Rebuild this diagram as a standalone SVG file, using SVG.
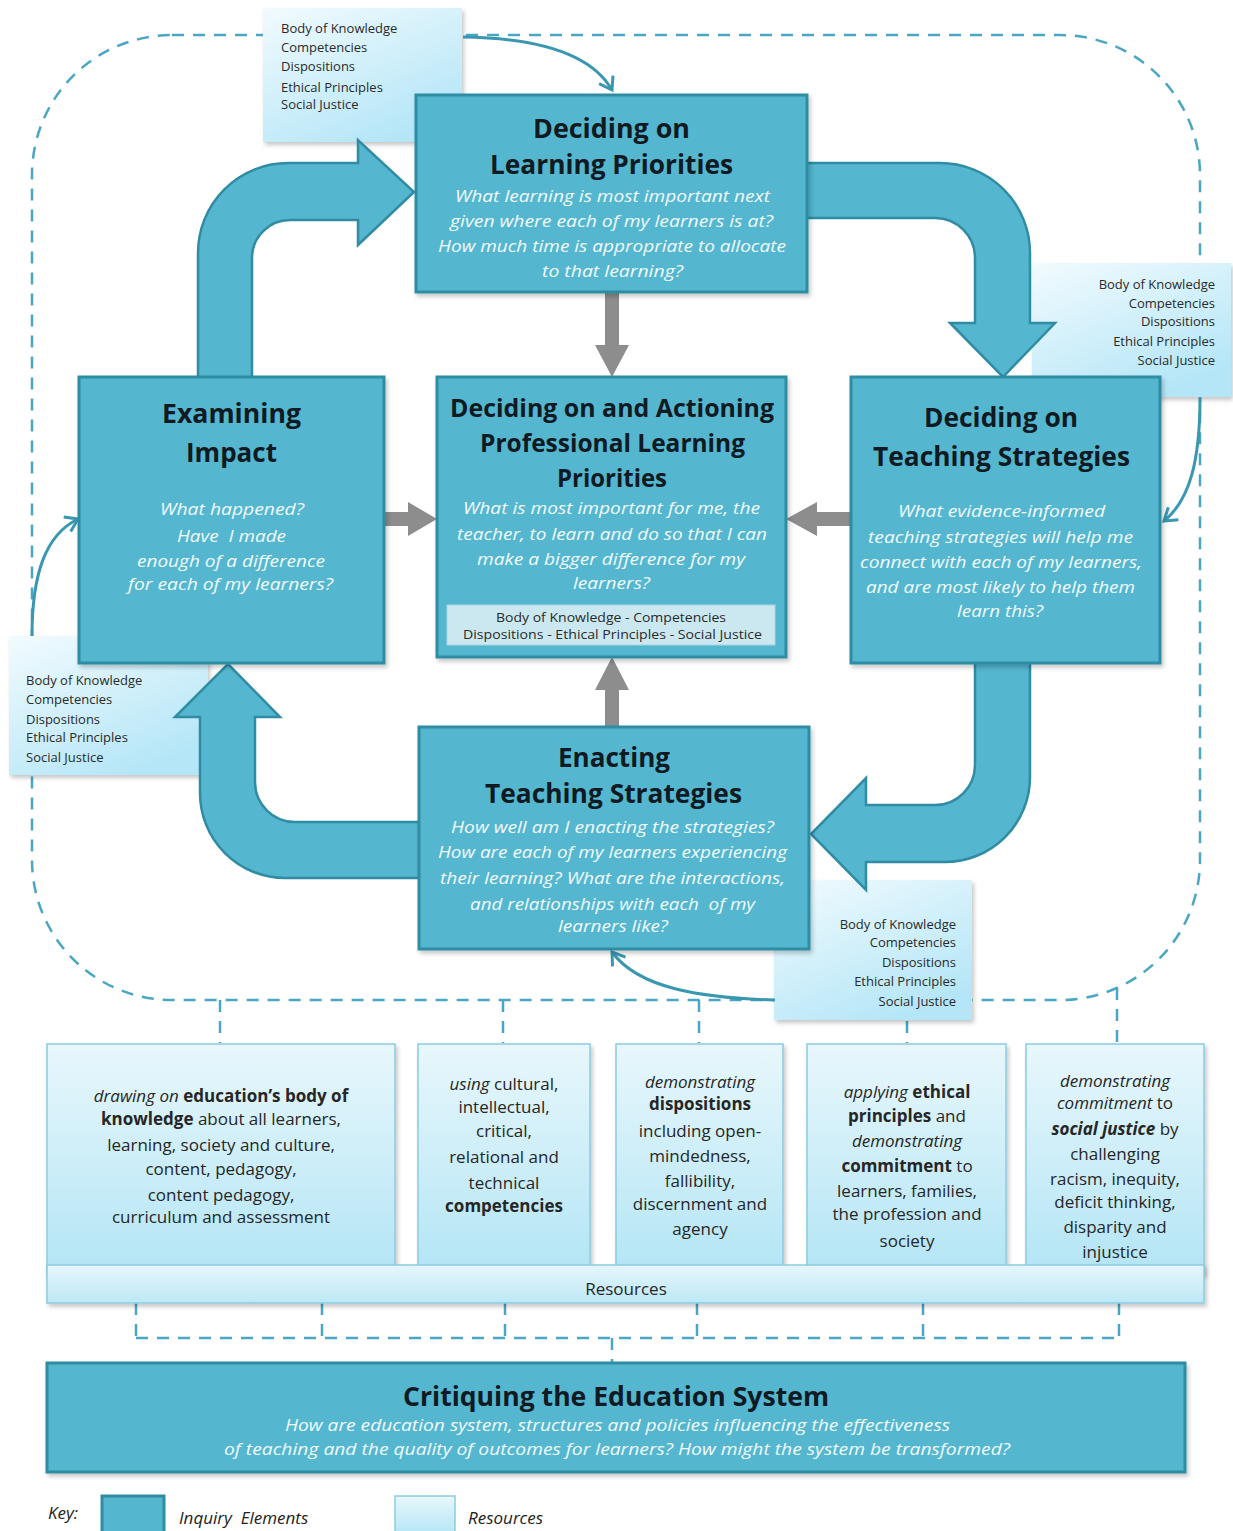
<svg xmlns="http://www.w3.org/2000/svg" width="1233" height="1531" viewBox="0 0 1233 1531">
<defs>
<style>
.box{fill:#55b6cf;stroke:#2f8ca3;stroke-width:3}
.big{fill:#55b6cf;stroke:#2f8ca3;stroke-width:2.5;stroke-linejoin:miter}
.gray{fill:#8d8d8d}
.dash{fill:none;stroke:#4aa6c3;stroke-width:2.5;stroke-dasharray:12 9}
.thin{fill:none;stroke:#3a97b1;stroke-width:3}
.res{fill:url(#gres);stroke:#8ccbe0;stroke-width:1.5}
.sres{fill:url(#gsres)}
.t{font-family:"Open Sans","Liberation Sans",sans-serif;font-weight:700;fill:#0f1a22}
.q{font-family:"Open Sans","Liberation Sans",sans-serif;font-style:italic;fill:#f2fbfd;font-size:16.5px}
.s{font-family:"Open Sans","Liberation Sans",sans-serif;font-size:13px;fill:#2a2a2a}
.r{font-family:"Open Sans","Liberation Sans",sans-serif;font-size:17px;fill:#262626;text-anchor:middle}
.b{font-weight:700}
.i{font-style:italic}
.k{font-family:"Open Sans","Liberation Sans",sans-serif;font-style:italic;font-size:17px;fill:#222}
</style>
<linearGradient id="gres" x1="0" y1="0" x2="0" y2="1">
<stop offset="0" stop-color="#e8f7fc"/>
<stop offset="1" stop-color="#b3e5f5"/>
</linearGradient>
<linearGradient id="gsres" x1="0" y1="0" x2="0.6" y2="1">
<stop offset="0" stop-color="#f2fbfe"/>
<stop offset="1" stop-color="#b5e6f7"/>
</linearGradient>
<linearGradient id="gbar" x1="0" y1="0" x2="0" y2="1">
<stop offset="0" stop-color="#e6f6fc"/>
<stop offset="1" stop-color="#bde8f6"/>
</linearGradient>
<filter id="sh" x="-10%" y="-10%" width="130%" height="130%">
<feDropShadow dx="2" dy="3" stdDeviation="2" flood-color="#000" flood-opacity="0.22"/>
</filter>
<marker id="chev" markerUnits="userSpaceOnUse" markerWidth="20" markerHeight="20" viewBox="0 0 20 20" refX="16" refY="10" orient="auto">
<path d="M4,2 L16,10 L4,18" fill="none" stroke="#3a97b1" stroke-width="3"/>
</marker>
</defs>
<rect width="1233" height="1531" fill="#ffffff"/>

<g id="frame">
<rect class="dash" x="32" y="35" width="1168" height="965" rx="140" ry="140"/>
<path class="dash" d="M220,1000 V1043 M503,1000 V1043 M699,1000 V1043 M907,1000 V1043 M1117,988 V1043"/>
<path class="dash" d="M136,1303 V1338 M322,1303 V1338 M505,1303 V1338 M697,1303 V1338 M923,1303 V1338 M1119,1303 V1338 M136,1338 H1119 M612,1338 V1363"/>
</g>

<g id="res-top">
<rect class="sres" x="263" y="8" width="199" height="134" filter="url(#sh)"/>
<text class="s" x="281" y="33">Body of Knowledge</text>
<text class="s" x="281" y="52">Competencies</text>
<text class="s" x="281" y="71">Dispositions</text>
<text class="s" x="281" y="92">Ethical Principles</text>
<text class="s" x="281" y="109">Social Justice</text>
</g>

<g id="res-right">
<rect class="sres" x="1032" y="263" width="199" height="134" filter="url(#sh)"/>
<g text-anchor="end">
<text class="s" x="1215" y="289">Body of Knowledge</text>
<text class="s" x="1215" y="308">Competencies</text>
<text class="s" x="1215" y="326">Dispositions</text>
<text class="s" x="1215" y="346">Ethical Principles</text>
<text class="s" x="1215" y="365">Social Justice</text>
</g>
</g>

<g id="res-left">
<rect class="sres" x="9" y="636" width="199" height="139" filter="url(#sh)"/>
<text class="s" x="26" y="685">Body of Knowledge</text>
<text class="s" x="26" y="704">Competencies</text>
<text class="s" x="26" y="724">Dispositions</text>
<text class="s" x="26" y="742">Ethical Principles</text>
<text class="s" x="26" y="762">Social Justice</text>
</g>

<g id="res-bottom">
<rect class="sres" x="774" y="880" width="198" height="140" filter="url(#sh)"/>
<g text-anchor="end">
<text class="s" x="956" y="929">Body of Knowledge</text>
<text class="s" x="956" y="947">Competencies</text>
<text class="s" x="956" y="967">Dispositions</text>
<text class="s" x="956" y="986">Ethical Principles</text>
<text class="s" x="956" y="1006">Social Justice</text>
</g>
</g>

<g id="connectors">
<path id="arr-impact-to-learning" class="big" d="M198,380 L198,253 A90,90 0 0 1 288,163 L358,163 L358,140 L414,192 L358,245 L358,220 L290,220 A38,38 0 0 0 252,258 L252,380 Z"/>
<path id="arr-learning-to-teaching" class="big" d="M805,163 L940,163 A90,90 0 0 1 1030,253 L1030,323 L1055,323 L1003,377 L950,323 L975,323 L975,258 A40,40 0 0 0 935,218 L805,218 Z"/>
<path id="arr-teaching-to-enacting" class="big" d="M975,660 L975,765 A40,40 0 0 1 935,805 L866,805 L866,778 L811,834 L866,890 L866,862 L945,862 A85,85 0 0 0 1030,777 L1030,660 Z"/>
<path id="arr-enacting-to-impact" class="big" d="M422,822 L295,822 A40,40 0 0 1 255,782 L255,717 L280,717 L228,664 L175,717 L200,717 L200,793 A85,85 0 0 0 285,878 L422,878 Z"/>
<path class="gray" d="M605,292 L605,345 L595,345 L612,377 L629,345 L619,345 L619,292 Z"/>
<path class="gray" d="M384,512 L408,512 L408,502 L437,519 L408,536 L408,526 L384,526 Z"/>
<path class="gray" d="M851,512 L817,512 L817,502 L786,519 L817,536 L817,526 L851,526 Z"/>
<path class="gray" d="M605,727 L605,690 L595,690 L612,657 L629,690 L619,690 L619,727 Z"/>
<path class="thin" marker-end="url(#chev)" d="M463,37 C540,38 592,55 612,90"/>
<path class="thin" marker-end="url(#chev)" d="M1200,398 C1200,460 1190,500 1164,521"/>
<path class="thin" marker-end="url(#chev)" d="M32,636 C32,575 45,535 78,519"/>
<path class="thin" marker-end="url(#chev)" d="M775,1000 C700,998 638,988 612,952"/>
</g>

<g id="learning-priorities">
<rect class="box" x="416" y="95" width="391" height="197" filter="url(#sh)"/>
<text class="t" font-size="26" x="533" y="138" textLength="157" lengthAdjust="spacingAndGlyphs">Deciding on</text>
<text class="t" font-size="26" x="490" y="174" textLength="243" lengthAdjust="spacingAndGlyphs">Learning Priorities</text>
<text class="q" x="455" y="202" textLength="315" lengthAdjust="spacingAndGlyphs">What learning is most important next</text>
<text class="q" x="450" y="227" textLength="323" lengthAdjust="spacingAndGlyphs">given where each of my learners is at?</text>
<text class="q" x="438" y="252" textLength="348" lengthAdjust="spacingAndGlyphs">How much time is appropriate to allocate</text>
<text class="q" x="542" y="277" textLength="141" lengthAdjust="spacingAndGlyphs">to that learning?</text>
</g>

<g id="professional-learning">
<rect class="box" x="437" y="377" width="349" height="280" filter="url(#sh)"/>
<text class="t" font-size="25" x="450" y="417" textLength="324" lengthAdjust="spacingAndGlyphs">Deciding on and Actioning</text>
<text class="t" font-size="25" x="480" y="452" textLength="265" lengthAdjust="spacingAndGlyphs">Professional Learning</text>
<text class="t" font-size="25" x="557" y="487" textLength="110" lengthAdjust="spacingAndGlyphs">Priorities</text>
<text class="q" x="463" y="514" textLength="297" lengthAdjust="spacingAndGlyphs">What is most important for me, the</text>
<text class="q" x="457" y="540" textLength="310" lengthAdjust="spacingAndGlyphs">teacher, to learn and do so that I can</text>
<text class="q" x="477" y="565" textLength="268" lengthAdjust="spacingAndGlyphs">make a bigger difference for my</text>
<text class="q" x="573" y="589" textLength="77" lengthAdjust="spacingAndGlyphs">learners?</text>
<rect x="447" y="605" width="328" height="40" fill="#cbe8f1" stroke="#a9d6e4" stroke-width="1"/>
<text class="s" x="496" y="622" textLength="230" lengthAdjust="spacingAndGlyphs">Body of Knowledge - Competencies</text>
<text class="s" x="463" y="639" textLength="299" lengthAdjust="spacingAndGlyphs">Dispositions - Ethical Principles - Social Justice</text>
</g>

<g id="examining-impact">
<rect class="box" x="79" y="377" width="305" height="286" filter="url(#sh)"/>
<text class="t" font-size="26" x="162" y="423" textLength="139" lengthAdjust="spacingAndGlyphs">Examining</text>
<text class="t" font-size="26" x="186" y="462" textLength="91" lengthAdjust="spacingAndGlyphs">Impact</text>
<text class="q" x="160" y="515" textLength="144" lengthAdjust="spacingAndGlyphs">What happened?</text>
<text class="q" x="177" y="542" textLength="109" lengthAdjust="spacingAndGlyphs" xml:space="preserve">Have  I made</text>
<text class="q" x="137" y="567" textLength="188" lengthAdjust="spacingAndGlyphs">enough of a difference</text>
<text class="q" x="128" y="590" textLength="205" lengthAdjust="spacingAndGlyphs">for each of my learners?</text>
</g>

<g id="teaching-strategies">
<rect class="box" x="851" y="377" width="309" height="286" filter="url(#sh)"/>
<text class="t" font-size="26" x="924" y="427" textLength="154" lengthAdjust="spacingAndGlyphs">Deciding on</text>
<text class="t" font-size="26" x="873" y="466" textLength="257" lengthAdjust="spacingAndGlyphs">Teaching Strategies</text>
<text class="q" x="898" y="517" textLength="207" lengthAdjust="spacingAndGlyphs">What evidence-informed</text>
<text class="q" x="868" y="543" textLength="265" lengthAdjust="spacingAndGlyphs">teaching strategies will help me</text>
<text class="q" x="860" y="568" textLength="282" lengthAdjust="spacingAndGlyphs">connect with each of my learners,</text>
<text class="q" x="866" y="593" textLength="269" lengthAdjust="spacingAndGlyphs">and are most likely to help them</text>
<text class="q" x="957" y="617" textLength="86" lengthAdjust="spacingAndGlyphs">learn this?</text>
</g>

<g id="enacting">
<rect class="box" x="419" y="727" width="390" height="222" filter="url(#sh)"/>
<text class="t" font-size="26" x="558" y="767" textLength="112" lengthAdjust="spacingAndGlyphs">Enacting</text>
<text class="t" font-size="26" x="485" y="803" textLength="257" lengthAdjust="spacingAndGlyphs">Teaching Strategies</text>
<text class="q" x="451" y="833" textLength="323" lengthAdjust="spacingAndGlyphs">How well am I enacting the strategies?</text>
<text class="q" x="438" y="858" textLength="349" lengthAdjust="spacingAndGlyphs">How are each of my learners experiencing</text>
<text class="q" x="440" y="884" textLength="345" lengthAdjust="spacingAndGlyphs">their learning? What are the interactions,</text>
<text class="q" x="470" y="910" textLength="285" lengthAdjust="spacingAndGlyphs" xml:space="preserve">and relationships with each  of my</text>
<text class="q" x="558" y="932" textLength="110" lengthAdjust="spacingAndGlyphs">learners like?</text>
</g>

<g id="res-knowledge">
<rect class="res" x="47" y="1044" width="348" height="230" filter="url(#sh)"/>
<text class="r" x="221" y="1102"><tspan class="i">drawing on</tspan> <tspan class="b">education’s body of</tspan></text>
<text class="r" x="221" y="1125"><tspan class="b">knowledge</tspan> about all learners,</text>
<text class="r" x="221" y="1151">learning, society and culture,</text>
<text class="r" x="221" y="1175">content, pedagogy,</text>
<text class="r" x="221" y="1201">content pedagogy,</text>
<text class="r" x="221" y="1223">curriculum and assessment</text>
</g>

<g id="res-competencies">
<rect class="res" x="418" y="1044" width="172" height="230" filter="url(#sh)"/>
<text class="r" x="504" y="1090"><tspan class="i">using</tspan> cultural,</text>
<text class="r" x="504" y="1113">intellectual,</text>
<text class="r" x="504" y="1137">critical,</text>
<text class="r" x="504" y="1163">relational and</text>
<text class="r" x="504" y="1189">technical</text>
<text class="r b" x="504" y="1212">competencies</text>
</g>

<g id="res-dispositions">
<rect class="res" x="616" y="1044" width="167" height="230" filter="url(#sh)"/>
<text class="r i" x="700" y="1088">demonstrating</text>
<text class="r b" x="700" y="1110">dispositions</text>
<text class="r" x="700" y="1137">including open-</text>
<text class="r" x="700" y="1162">mindedness,</text>
<text class="r" x="700" y="1187">fallibility,</text>
<text class="r" x="700" y="1210">discernment and</text>
<text class="r" x="700" y="1235">agency</text>
</g>

<g id="res-ethics">
<rect class="res" x="807" y="1044" width="199" height="230" filter="url(#sh)"/>
<text class="r" x="907" y="1098"><tspan class="i">applying</tspan> <tspan class="b">ethical</tspan></text>
<text class="r" x="907" y="1122"><tspan class="b">principles</tspan> and</text>
<text class="r i" x="907" y="1147">demonstrating</text>
<text class="r" x="907" y="1172"><tspan class="b">commitment</tspan> to</text>
<text class="r" x="907" y="1197">learners, families,</text>
<text class="r" x="907" y="1220">the profession and</text>
<text class="r" x="907" y="1247">society</text>
</g>

<g id="res-justice">
<rect class="res" x="1026" y="1044" width="178" height="230" filter="url(#sh)"/>
<text class="r i" x="1115" y="1087">demonstrating</text>
<text class="r" x="1115" y="1109"><tspan class="i">commitment</tspan> to</text>
<text class="r" x="1115" y="1135"><tspan class="b i">social justice</tspan> by</text>
<text class="r" x="1115" y="1160">challenging</text>
<text class="r" x="1115" y="1185">racism, inequity,</text>
<text class="r" x="1115" y="1208">deficit thinking,</text>
<text class="r" x="1115" y="1233">disparity and</text>
<text class="r" x="1115" y="1258">injustice</text>
</g>

<g id="resources-bar">
<rect x="47" y="1265" width="1157" height="38" fill="url(#gbar)" stroke="#8ccbe0" stroke-width="1.5" filter="url(#sh)"/>
<text class="r" font-size="20" x="626" y="1295">Resources</text>
</g>

<g id="critiquing">
<rect class="box" x="47" y="1363" width="1138" height="109" filter="url(#sh)"/>
<text class="t" font-size="26" x="403" y="1406" textLength="426" lengthAdjust="spacingAndGlyphs">Critiquing the Education System</text>
<text class="q" font-size="16" x="285" y="1431" textLength="665" lengthAdjust="spacingAndGlyphs">How are education system, structures and policies influencing the effectiveness</text>
<text class="q" font-size="16" x="224" y="1455" textLength="786" lengthAdjust="spacingAndGlyphs">of teaching and the quality of outcomes for learners? How might the system be transformed?</text>
</g>

<g id="key">
<text class="k" x="48" y="1519">Key:</text>
<rect class="box" x="102" y="1496" width="62" height="40"/>
<text class="k" x="179" y="1524" xml:space="preserve">Inquiry  Elements</text>
<rect class="res" x="395" y="1496" width="60" height="40"/>
<text class="k" x="468" y="1524">Resources</text>
</g>
</svg>
